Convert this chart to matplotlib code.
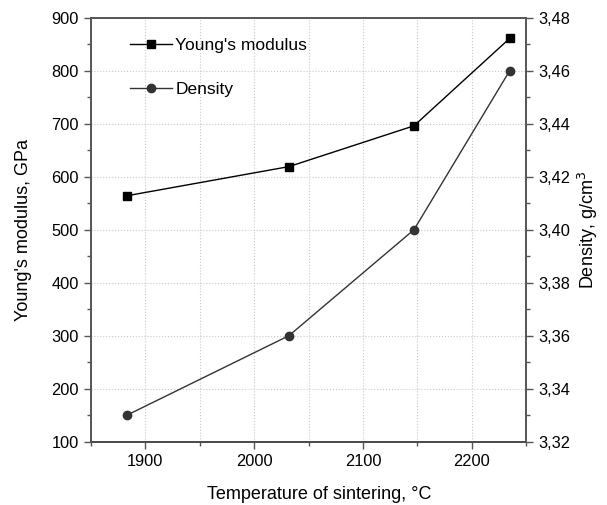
import matplotlib
matplotlib.use('Agg')
import matplotlib.pyplot as plt
from matplotlib.ticker import MultipleLocator, FuncFormatter

# Datos
temperatura = [1883, 2032, 2147, 2235]
modulo_young = [564, 619, 696, 861]
densidad = [3.33, 3.36, 3.40, 3.46]

plt.rcParams['font.family'] = ['Liberation Sans', 'DejaVu Sans']
plt.rcParams['font.size'] = 11.8

fig = plt.figure(figsize=(6.07, 5.05), dpi=100)
ax = fig.add_axes([0.150, 0.1254, 0.7166, 0.8396])
ax2 = ax.twinx()

# --- Módulo de Young ---
l1, = ax.plot(temperatura, modulo_young, '-s', color='black', lw=1.0,
              ms=5.5, label="Young's modulus", zorder=3)
ax.set_xlim(1850, 2250)
ax.set_ylim(100, 900)
ax.xaxis.set_major_locator(MultipleLocator(100))
ax.xaxis.set_minor_locator(MultipleLocator(50))
ax.yaxis.set_major_locator(MultipleLocator(100))
ax.yaxis.set_minor_locator(MultipleLocator(50))
ax.grid(True, which='major', axis='y', color='#c8c8c8', ls=':', lw=0.8)
ax.grid(True, which='both', axis='x', color='#c8c8c8', ls=':', lw=0.8)
ax.set_axisbelow(True)
ax.set_xlabel('Temperature of sintering, °C', fontsize=13, labelpad=12)
ax.xaxis.label.set_x(0.525)
ax.set_ylabel("Young's modulus, GPa", fontsize=13, labelpad=14)

# --- Densidad ---
l2, = ax2.plot(temperatura, densidad, '-o', color='#333333', lw=1.0,
               ms=6, label='Density', zorder=3)
ax2.set_ylim(3.32, 3.48)
ax2.yaxis.set_major_locator(MultipleLocator(0.02))
ax2.yaxis.set_minor_locator(MultipleLocator(0.01))
ax2.yaxis.set_major_formatter(FuncFormatter(lambda v, p: f'{v:.2f}'.replace('.', ',')))
ax2.set_ylabel('Density, g/cm$^3$', fontsize=13, labelpad=4)

for a in (ax, ax2):
    a.tick_params(which='major', direction='out', length=5, width=1, pad=4,
                  colors='#555555', labelcolor='black')
    a.tick_params(which='minor', direction='out', length=3, width=1, colors='#555555')
    for s in a.spines.values():
        s.set_color('#555555')
        s.set_linewidth(1.2)
ax.spines['bottom'].set_color('black')

ax.legend(handles=[l1, l2], loc='upper left', bbox_to_anchor=(0.09, 0.952),
          frameon=False, borderpad=0, borderaxespad=0, handlelength=2.4,
          handletextpad=0.2, labelspacing=1.65, fontsize=12.5)

plt.savefig('out.png', dpi=100)
